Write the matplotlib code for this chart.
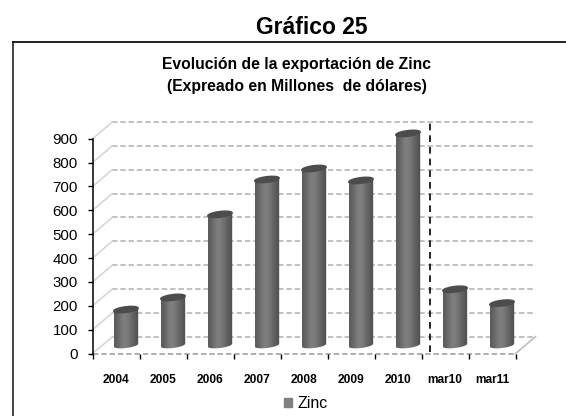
import numpy as np
import matplotlib
matplotlib.use("Agg")
import matplotlib.pyplot as plt
from matplotlib.patches import Patch, Polygon

plt.rcParams["font.family"] = ["Liberation Sans", "DejaVu Sans"]

categories = ["2004", "2005", "2006", "2007", "2008", "2009", "2010", "mar10", "mar11"]
zinc = [149, 200, 548, 694, 740, 690, 887, 234, 176]
yticks = [0, 100, 200, 300, 400, 500, 600, 700, 800, 900]

W, H = 566, 416
# fake 3d depth, in data units
depth_x = 0.42
depth_y = 70
half_w = 0.26
cap_r = 12
cap_skew = 6

fig = plt.figure(figsize=(W / 100, H / 100), dpi=100)
# ylim goes to 1000 so the tall bar is not cut by the axes box
ax = fig.add_axes([92.6 / W, 1 - 353.5 / H, 423 / W, 238.7 / H])
ax.set_facecolor("none")

# Walls
for v in yticks:
    ax.plot([depth_x, 9 + depth_x], [v + depth_y, v + depth_y], color="#bcbcbc",
            lw=1.3, ls=(0, (3, 1.6)), clip_on=False, zorder=1)
    ax.plot([0, depth_x], [v, v + depth_y], color="#d6d6d6", lw=1.2, clip_on=False, zorder=1)
ax.plot([0, 9], [0, 0], color="#a8a8a8", lw=1.3, ls=(0, (3, 1.6)), clip_on=False, zorder=1)
ax.plot([9, 9 + depth_x], [0, depth_y], color="#c4c4c4", lw=1.4, clip_on=False, zorder=1)

# Cylinders
shade = np.array([[0.36, 0.40, 0.46, 0.50, 0.49, 0.45, 0.40, 0.36, 0.32]])
t = np.linspace(0, 2 * np.pi, 60)
for i, val in enumerate(zinc):
    cx = i + 0.5 + depth_x / 2
    base = depth_y / 2
    top = val + base
    ex = half_w * np.cos(t)
    ey = cap_r * np.sin(t) + cap_skew * np.cos(t)
    low = t[(t >= np.pi) & (t <= 2 * np.pi)]
    xs = np.r_[cx + half_w * np.cos(low), cx + half_w, cx - half_w]
    ys = np.r_[base + cap_r * np.sin(low) + cap_skew * np.cos(low), top + cap_skew, top - cap_skew]
    body = Polygon(np.c_[xs, ys], closed=True, fc="none", ec="none", transform=ax.transData)
    ax.add_patch(body)
    im = ax.imshow(shade, extent=[cx - half_w, cx + half_w, base - 20, top + 20], cmap="gray",
                   vmin=0, vmax=1, aspect="auto", interpolation="bicubic", zorder=3)
    im.set_clip_path(body)
    ax.fill(cx + ex, top + ey, color="#4c4c4c", zorder=4, clip_on=False)

# Divider between years and months
ax.plot([7.17, 7.17], [8, 975], color="black", lw=1.2, ls=(0, (4, 3)), clip_on=False, zorder=5)

ax.set_xlim(0, 9)
ax.set_ylim(0, 1000)
ax.set_yticks(yticks)
ax.set_xticks(range(10))
ax.set_xticklabels([])
ax.tick_params(axis="y", direction="out", length=3.5, width=1, labelsize=10.8, pad=7)
ax.tick_params(axis="x", direction="out", length=3.5, width=1)
for s in ["top", "right", "bottom"]:
    ax.spines[s].set_visible(False)
ax.spines["left"].set_linewidth(1.1)
ax.spines["left"].set_bounds(0, 900)

for i, c in enumerate(categories):
    ax.text(i + 0.5, -112, c, ha="center", va="center", fontsize=8.6, fontweight="bold",
            clip_on=False)

# Box lines, open on the right and bottom as in the page
fig.add_artist(plt.Line2D([13 / W, 13 / W], [0, 1 - 42 / H], color="#222222", lw=1.2))
fig.add_artist(plt.Line2D([13 / W, 1], [1 - 42 / H, 1 - 42 / H], color="#111111", lw=1.3))

fig.text(312 / W, 1 - 27 / H, "Gráfico 25", ha="center", va="center", fontsize=16.5,
         fontweight="bold")
fig.text(297 / W, 1 - 65 / H, "Evolución de la exportación de Zinc", ha="center", va="center",
         fontsize=11.3, fontweight="bold")
fig.text(297 / W, 1 - 86 / H, "(Expreado en Millones  de dólares)", ha="center", va="center",
         fontsize=11.3, fontweight="bold")

fig.legend(handles=[Patch(color="#7f7f7f", label="Zinc")], loc="center",
           bbox_to_anchor=(306 / W, 1 - 404 / H), frameon=False, fontsize=11.5,
           handlelength=0.5, handleheight=0.5, handletextpad=0.35)

fig.savefig("out.png", dpi=100)
